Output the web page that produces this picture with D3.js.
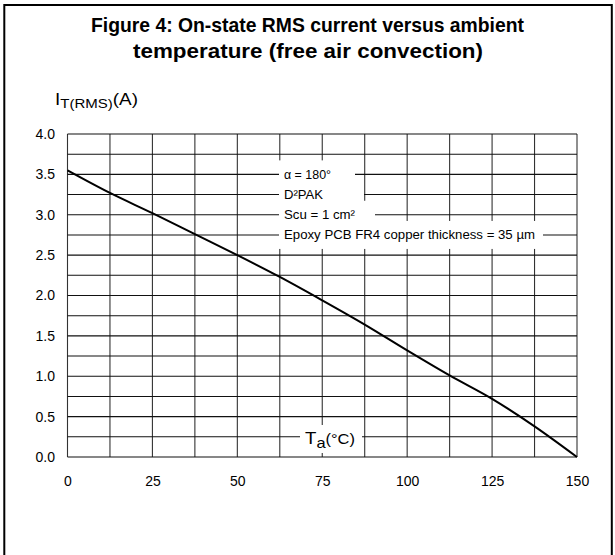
<!DOCTYPE html>
<html><head><meta charset="utf-8">
<script src="https://cdn.jsdelivr.net/npm/d3@7"></script>
<style>body{margin:0;background:#fff}svg{display:block;font-family:Arial,"Liberation Sans",sans-serif}</style>
</head><body>
<svg id="c" width="615" height="555"></svg>
<script>
const temps = [0, 12.5, 25, 37.5, 50, 62.5, 75, 87.5, 100, 112.5, 125, 137.5, 150];
const current = [3.55, 3.27, 3.02, 2.76, 2.50, 2.23, 1.94, 1.64, 1.32, 1.01, 0.72, 0.38, 0];
const xTicks = [0, 25, 50, 75, 100, 125, 150];
const yTicks = [0, 0.5, 1.0, 1.5, 2.0, 2.5, 3.0, 3.5, 4.0];
const xGrid = d3.range(0, 150.1, 12.5);
const yGrid = d3.range(0, 4.01, 0.25);
const notes = ["α = 180°", "D²PAK", "Scu = 1 cm²", "Epoxy PCB FR4 copper thickness = 35 µm"];
const noteLevels = [3.5, 3.25, 3.0, 2.75];

const FONT = "Arial, 'Liberation Sans', sans-serif";
const svg = d3.select("#c");
svg.append("rect").attr("x", 4.3).attr("y", 5).attr("width", 607.5).attr("height", 560)
  .attr("fill", "none").attr("stroke", "#000").attr("stroke-width", 2);

svg.append("text").attr("x", 91).attr("y", 32)
  .attr("font-size", 19.3).attr("font-weight", "bold")
  .attr("textLength", 433).attr("lengthAdjust", "spacingAndGlyphs")
  .text("Figure 4: On-state RMS current versus ambient");
svg.append("text").attr("x", 133).attr("y", 58)
  .attr("font-size", 19.3).attr("font-weight", "bold")
  .attr("textLength", 350).attr("lengthAdjust", "spacingAndGlyphs")
  .text("temperature (free air convection)");

const x = d3.scaleLinear().domain([0, 150]).range([67.5, 577]);
const y = d3.scaleLinear().domain([0, 4]).range([457, 134]);

const g = svg.append("g");
g.selectAll("line.v").data(xGrid).join("line").attr("class", "v")
  .attr("x1", d => x(d)).attr("x2", d => x(d)).attr("y1", y(0)).attr("y2", y(4))
  .attr("stroke", "#333").attr("stroke-width", 1.1);
g.selectAll("line.h").data(yGrid).join("line").attr("class", "h")
  .attr("x1", x(0)).attr("x2", x(150)).attr("y1", d => y(d)).attr("y2", d => y(d))
  .attr("stroke", "#111").attr("stroke-width", 1.1);

// axes tick labels
const yAxis = d3.axisLeft(y).tickValues(yTicks).tickFormat(d3.format(".1f")).tickSize(0).tickPadding(12.5);
const ya = svg.append("g").attr("transform", `translate(${x(0)},0)`).call(yAxis);
ya.select(".domain").remove();
ya.selectAll("text").attr("font-size", 14).attr("font-family", FONT).attr("fill", "#000");
const xAxis = d3.axisBottom(x).tickValues(xTicks).tickFormat(d3.format("d")).tickSize(0).tickPadding(19);
const xa = svg.append("g").attr("transform", `translate(0,${y(0)})`).call(xAxis);
xa.select(".domain").remove();
xa.selectAll("text").attr("font-size", 14).attr("font-family", FONT).attr("fill", "#000");

// annotation labels with white backgrounds
const nx = 284;
const boxRight = [355, 364, 375, 543];
const textWidth = [47, 39, 71, 251];
notes.forEach((t, i) => {
  const gy = y(noteLevels[i]);
  svg.append("rect").attr("x", 279).attr("y", gy - 14).attr("width", boxRight[i] - 279).attr("height", 28).attr("fill", "#fff");
});
notes.forEach((t, i) => {
  const gy = y(noteLevels[i]);
  svg.append("text").attr("x", nx).attr("y", gy + 4.2).attr("font-size", 12)
    .attr("textLength", textWidth[i]).attr("lengthAdjust", "spacingAndGlyphs").text(t);
});

// Ta label
svg.append("rect").attr("x", 300).attr("y", 425).attr("width", 62).attr("height", 28).attr("fill", "#fff");
const tt = svg.append("text").attr("x", 305).attr("y", 443.5).attr("font-size", 17)
  .attr("textLength", 50).attr("lengthAdjust", "spacingAndGlyphs");
tt.append("tspan").text("T");
tt.append("tspan").attr("font-size", 15).attr("dy", 4).text("a");
tt.append("tspan").attr("font-size", 15).attr("dy", -4).text("(°C)");

// y label
const yl = svg.append("text").attr("x", 55).attr("y", 105).attr("font-size", 17)
  .attr("textLength", 83).attr("lengthAdjust", "spacingAndGlyphs");
yl.append("tspan").text("I");
yl.append("tspan").attr("font-size", 13.5).attr("dy", 3).text("T(RMS)");
yl.append("tspan").attr("dy", -3).text("(A)");

const line = d3.line().x((d, i) => x(temps[i])).y(d => y(d)).curve(d3.curveMonotoneX);
svg.append("path").datum(current).attr("d", line).attr("fill", "none")
  .attr("stroke", "#000").attr("stroke-width", 2);
</script>
</body></html>
